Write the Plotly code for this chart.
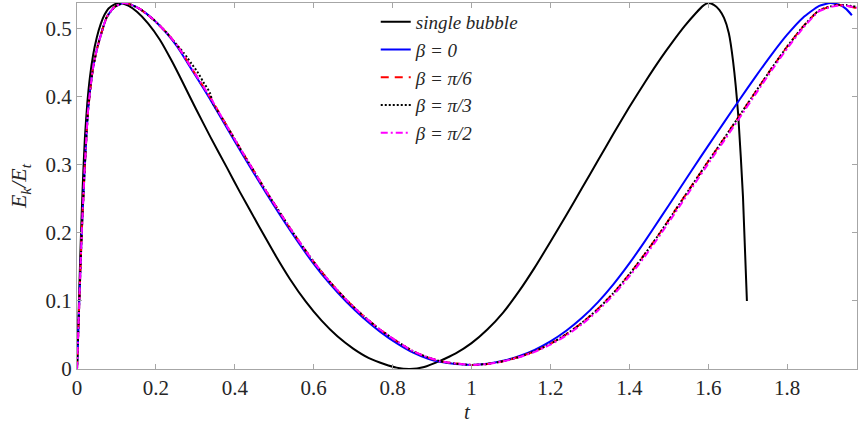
import plotly.graph_objects as go

# ---- single bubble ----
t_single = [0, 0.004, 0.008, 0.012, 0.016, 0.02, 0.026, 0.033, 0.041, 0.05, 0.06, 0.07,
            0.08, 0.095, 0.109, 0.13, 0.152, 0.18, 0.21, 0.24, 0.27, 0.30, 0.34, 0.38,
            0.413, 0.46, 0.50, 0.54, 0.58, 0.62, 0.66, 0.70, 0.74, 0.78, 0.81, 0.844,
            0.88, 0.92, 0.96, 1.0, 1.04, 1.08, 1.12, 1.16, 1.2, 1.24, 1.28, 1.32, 1.36,
            1.40, 1.44, 1.48, 1.511, 1.54, 1.57, 1.585, 1.6, 1.615, 1.628, 1.64, 1.652,
            1.663, 1.676, 1.688, 1.698]
e_single = [0, 0.08, 0.16, 0.23, 0.29, 0.34, 0.39, 0.43, 0.462, 0.487, 0.507, 0.521,
            0.53, 0.536, 0.538, 0.534, 0.525, 0.508, 0.484, 0.453, 0.419, 0.384, 0.339, 0.296,
            0.26, 0.211, 0.17, 0.132, 0.099, 0.071, 0.048, 0.03, 0.016, 0.007, 0.002, 0.0,
            0.003, 0.012, 0.023, 0.038, 0.058, 0.083, 0.114, 0.149, 0.187, 0.226, 0.266, 0.306,
            0.346, 0.385, 0.422, 0.457, 0.482, 0.504, 0.524, 0.533, 0.538, 0.535, 0.528,
            0.516, 0.494, 0.452, 0.373, 0.253, 0.10]

# ---- beta = 0 ----
t_b0 = [0, 0.005, 0.012, 0.02, 0.028, 0.04, 0.05, 0.065, 0.076, 0.095, 0.117, 0.135,
        0.16, 0.193, 0.228, 0.255, 0.279, 0.305, 0.337, 0.37, 0.42, 0.48, 0.54, 0.598,
        0.641, 0.684, 0.726, 0.768, 0.81, 0.852, 0.89, 0.92, 0.96, 1.0, 1.04, 1.08,
        1.12, 1.16, 1.2, 1.24, 1.28, 1.32, 1.36, 1.40, 1.44, 1.48, 1.52, 1.56, 1.60,
        1.64, 1.68, 1.72, 1.76, 1.80, 1.84, 1.88, 1.91, 1.934, 1.95, 1.964]
e_b0 = [0, 0.085, 0.2, 0.3, 0.38, 0.44, 0.469, 0.5, 0.518, 0.532, 0.538, 0.536,
        0.529, 0.514, 0.493, 0.473, 0.451, 0.427, 0.397, 0.364, 0.315, 0.258, 0.204, 0.156,
        0.125, 0.098, 0.075, 0.055, 0.038, 0.024, 0.015, 0.0105, 0.0072, 0.006, 0.0076, 0.012,
        0.0188, 0.0282, 0.0406, 0.0562, 0.0752, 0.098, 0.1248, 0.1552, 0.1884, 0.2232, 0.2584,
        0.2936, 0.3284, 0.3626, 0.3966, 0.4298, 0.4618, 0.4914, 0.5164, 0.5334, 0.538,
        0.535, 0.529, 0.52]

# ---- beta = pi/6 ----
t_b6 = [0, 0.005, 0.012, 0.02, 0.028, 0.04, 0.05, 0.065, 0.076, 0.095, 0.117, 0.135,
        0.16, 0.193, 0.228, 0.255, 0.279, 0.305, 0.337, 0.37, 0.42, 0.48, 0.54, 0.598,
        0.641, 0.684, 0.726, 0.768, 0.81, 0.852, 0.89, 0.92, 0.96, 1.0, 1.04, 1.08,
        1.12, 1.16, 1.2, 1.24, 1.28, 1.32, 1.36, 1.40, 1.44, 1.48, 1.52, 1.56, 1.60,
        1.64, 1.68, 1.72, 1.76, 1.80, 1.84, 1.88, 1.91, 1.926, 1.95, 1.977]
e_b6 = [0, 0.085, 0.2, 0.3, 0.38, 0.44, 0.469, 0.5, 0.518, 0.532, 0.538, 0.536,
        0.529, 0.514, 0.494, 0.475, 0.453, 0.429, 0.4, 0.367, 0.318, 0.261, 0.207, 0.159,
        0.128, 0.101, 0.078, 0.058, 0.041, 0.026, 0.017, 0.0115, 0.008, 0.006, 0.0074, 0.0114,
        0.0176, 0.026, 0.0371, 0.051, 0.0679, 0.0881, 0.1118, 0.1392, 0.1695, 0.2021, 0.2364,
        0.271, 0.3052, 0.3388, 0.3731, 0.4074, 0.4415, 0.4739, 0.5032, 0.5268, 0.533,
        0.535, 0.534, 0.53]

# ---- beta = pi/3 ----
t_b3 = [0, 0.005, 0.012, 0.02, 0.028, 0.04, 0.05, 0.065, 0.076, 0.095, 0.117, 0.135,
        0.16, 0.193, 0.228, 0.255, 0.27, 0.279, 0.29, 0.305, 0.32, 0.337, 0.345, 0.37,
        0.42, 0.48, 0.54, 0.598, 0.641, 0.684, 0.726, 0.768, 0.81, 0.852, 0.89, 0.92,
        0.96, 1.0, 1.04, 1.08, 1.12, 1.16, 1.2, 1.24, 1.28, 1.32, 1.36, 1.40, 1.44, 1.48,
        1.52, 1.56, 1.60, 1.64, 1.68, 1.72, 1.76, 1.80, 1.84, 1.88, 1.91, 1.926, 1.95, 1.977]
e_b3 = [0, 0.085, 0.2, 0.3, 0.38, 0.44, 0.469, 0.5, 0.518, 0.532, 0.538, 0.536,
        0.529, 0.514, 0.494, 0.475, 0.465, 0.458, 0.449, 0.437, 0.422, 0.406, 0.39, 0.367,
        0.318, 0.261, 0.207, 0.159, 0.128, 0.101, 0.078, 0.058, 0.041, 0.026, 0.017, 0.0115,
        0.008, 0.006, 0.0074, 0.0114, 0.0176, 0.026, 0.0371, 0.051, 0.0679, 0.0881, 0.1118,
        0.1392, 0.1695, 0.2021, 0.2364, 0.271, 0.3052, 0.3388, 0.3731, 0.4074, 0.4415,
        0.4739, 0.5032, 0.5268, 0.533, 0.535, 0.535, 0.532]

# ---- beta = pi/2 ----
t_b2 = [0, 0.005, 0.012, 0.02, 0.028, 0.04, 0.05, 0.065, 0.076, 0.095, 0.117, 0.135,
        0.16, 0.193, 0.228, 0.255, 0.279, 0.305, 0.337, 0.37, 0.42, 0.48, 0.54, 0.598,
        0.641, 0.684, 0.726, 0.768, 0.81, 0.852, 0.89, 0.92, 0.96, 1.0, 1.04, 1.08,
        1.12, 1.16, 1.2, 1.24, 1.28, 1.32, 1.36, 1.40, 1.44, 1.48, 1.52, 1.56, 1.60,
        1.64, 1.68, 1.72, 1.76, 1.80, 1.84, 1.88, 1.91, 1.93, 1.95, 1.977]
e_b2 = [0, 0.085, 0.2, 0.3, 0.38, 0.44, 0.469, 0.5, 0.518, 0.532, 0.538, 0.536,
        0.529, 0.514, 0.494, 0.475, 0.453, 0.429, 0.4, 0.367, 0.318, 0.261, 0.207, 0.159,
        0.128, 0.101, 0.078, 0.058, 0.041, 0.026, 0.017, 0.0115, 0.008, 0.006, 0.0073, 0.0112,
        0.0172, 0.0252, 0.0357, 0.0493, 0.0658, 0.0856, 0.109, 0.136, 0.166, 0.1986, 0.2329,
        0.2675, 0.3018, 0.3354, 0.3697, 0.4041, 0.4384, 0.4711, 0.501, 0.5256, 0.532,
        0.5345, 0.534, 0.531]

x_ticks = [0, 0.2, 0.4, 0.6, 0.8, 1, 1.2, 1.4, 1.6, 1.8]
x_tick_text = ["0", "0.2", "0.4", "0.6", "0.8", "1", "1.2", "1.4", "1.6", "1.8"]
y_ticks = [0, 0.1, 0.2, 0.3, 0.4, 0.5]
y_tick_text = ["0", "0.1", "0.2", "0.3", "0.4", "0.5"]

SERIF = "Liberation Serif"
AXIS_GRAY = "#a6a6a6"
TEXT = "#262626"

series = [
    (t_single, e_single, "single bubble", "black", "solid"),
    (t_b0, e_b0, "β = 0", "#0000ff", "solid"),
    (t_b6, e_b6, "β = π/6", "#ff0000", "8px,6px"),
    (t_b3, e_b3, "β = π/3", "black", "2px,2px"),
    (t_b2, e_b2, "β = π/2", "#ff00ff", "7px,3px,2px,3px"),
]

fig = go.Figure()
for tx, ey, name, color, dash in series:
    fig.add_trace(go.Scatter(
        x=tx, y=ey, name=f"<i>{name}</i>", mode="lines",
        line=dict(color=color, width=2, dash=dash, shape="spline", smoothing=0.5),
    ))

axis_common = dict(
    showline=True, linecolor=AXIS_GRAY, linewidth=1, mirror="ticks",
    ticks="inside", ticklen=5, tickcolor=AXIS_GRAY, tickwidth=1,
    showgrid=False, zeroline=False,
    tickfont=dict(family=SERIF, size=21, color=TEXT),
)

fig.update_layout(
    width=858, height=425,
    margin=dict(l=77, r=1, t=3, b=56),
    plot_bgcolor="white", paper_bgcolor="white",
    font=dict(family=SERIF, color=TEXT),
    showlegend=True,
    legend=dict(
        x=0.383, y=1.0, xanchor="left", yanchor="top",
        bgcolor="rgba(255,255,255,0)", borderwidth=0,
        font=dict(family=SERIF, size=19, color=TEXT),
        itemwidth=30, tracegroupgap=0,
    ),
    xaxis=dict(
        range=[0, 1.977], tickvals=x_ticks, ticktext=x_tick_text,
        title=dict(text="<i>t</i>", font=dict(family=SERIF, size=21, color=TEXT), standoff=3),
        **axis_common,
    ),
    yaxis=dict(
        range=[0, 0.538], tickvals=y_ticks, ticktext=y_tick_text,
        title=dict(text="<i>E<sub>k</sub>/E<sub>t</sub></i>",
                   font=dict(family=SERIF, size=22, color=TEXT), standoff=12),
        **axis_common,
    ),
)

fig.write_html("out.html")
